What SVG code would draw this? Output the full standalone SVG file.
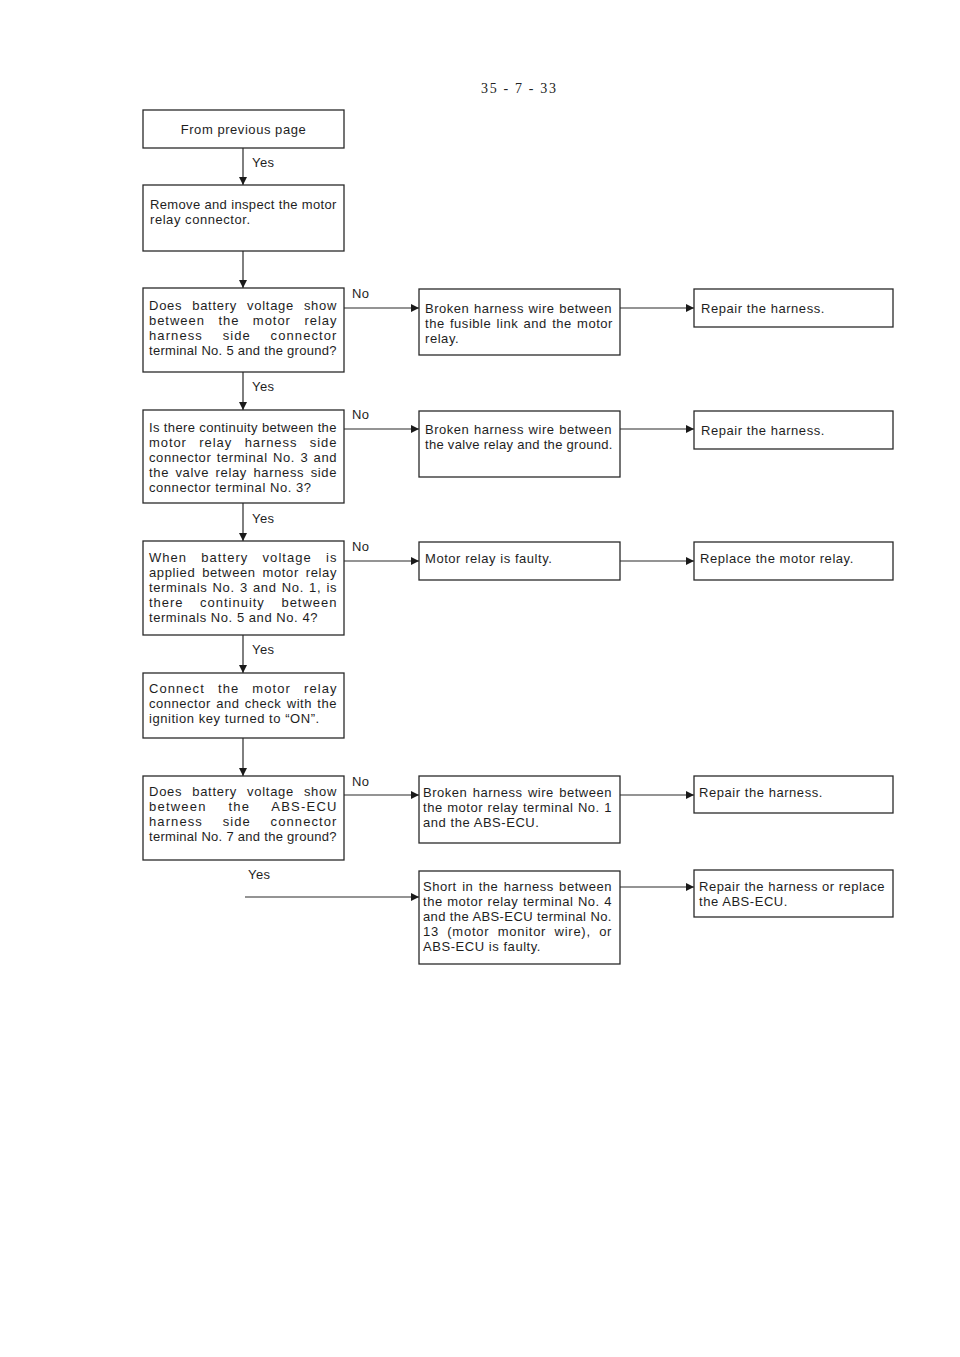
<svg xmlns="http://www.w3.org/2000/svg" width="960" height="1357" viewBox="0 0 960 1357">
<defs>
<marker id="ah" viewBox="0 0 10 10" refX="10" refY="5" markerWidth="8" markerHeight="8" markerUnits="userSpaceOnUse" orient="auto"><path d="M0,0 L10,5 L0,10 z" fill="#1a1a1a"/></marker>
<style>
.box{fill:#fff;stroke:#2a2a2a;stroke-width:1.3}
.t{font-family:"Liberation Sans",Arial,sans-serif;font-size:13px;fill:#1e1e1e;letter-spacing:0.55px}
.lbl{font-family:"Liberation Sans",Arial,sans-serif;font-size:13px;fill:#1e1e1e;letter-spacing:0.4px}
.pg{font-family:"Liberation Serif","Times New Roman",serif;font-size:14px;fill:#222}
.c{fill:none;stroke:#2a2a2a;stroke-width:1.2}
</style>
</defs>
<rect width="960" height="1357" fill="#fff"/>
<text class="pg" x="481" y="93" textLength="75" lengthAdjust="spacing">35 - 7 - 33</text>

<g id="connectors">
<line class="c" x1="243" y1="148" x2="243" y2="185" marker-end="url(#ah)"/>
<line class="c" x1="243" y1="251" x2="243" y2="288" marker-end="url(#ah)"/>
<line class="c" x1="344" y1="308" x2="419" y2="308" marker-end="url(#ah)"/>
<line class="c" x1="620" y1="308" x2="694" y2="308" marker-end="url(#ah)"/>
<line class="c" x1="243" y1="372" x2="243" y2="410" marker-end="url(#ah)"/>
<line class="c" x1="344" y1="429" x2="419" y2="429" marker-end="url(#ah)"/>
<line class="c" x1="620" y1="429" x2="694" y2="429" marker-end="url(#ah)"/>
<line class="c" x1="243" y1="503" x2="243" y2="541" marker-end="url(#ah)"/>
<line class="c" x1="344" y1="561" x2="419" y2="561" marker-end="url(#ah)"/>
<line class="c" x1="620" y1="561" x2="694" y2="561" marker-end="url(#ah)"/>
<line class="c" x1="243" y1="635" x2="243" y2="673" marker-end="url(#ah)"/>
<line class="c" x1="243" y1="738" x2="243" y2="776" marker-end="url(#ah)"/>
<line class="c" x1="344" y1="795" x2="419" y2="795" marker-end="url(#ah)"/>
<line class="c" x1="620" y1="795" x2="694" y2="795" marker-end="url(#ah)"/>
<line class="c" x1="245" y1="897" x2="419" y2="897" marker-end="url(#ah)"/>
<line class="c" x1="620" y1="887" x2="694" y2="887" marker-end="url(#ah)"/>
<text class="lbl" x="252" y="167">Yes</text>
<text class="lbl" x="352" y="298">No</text>
<text class="lbl" x="252" y="391">Yes</text>
<text class="lbl" x="352" y="419">No</text>
<text class="lbl" x="252" y="523">Yes</text>
<text class="lbl" x="352" y="551">No</text>
<text class="lbl" x="252" y="654">Yes</text>
<text class="lbl" x="352" y="786">No</text>
<text class="lbl" x="248" y="879">Yes</text>
</g>

<g id="n1"><rect class="box" x="143" y="110" width="201" height="38"/>
<text class="t" x="243.5" y="134" text-anchor="middle">From previous page</text></g>

<g id="n2"><rect class="box" x="143" y="185" width="201" height="66"/>
<text class="t" x="150" y="209" textLength="187" lengthAdjust="spacing">Remove and inspect the motor</text>
<text class="t" x="150" y="224">relay connector.</text></g>

<g id="n3"><rect class="box" x="143" y="288" width="201" height="84"/>
<text class="t" x="149" y="310" textLength="188" lengthAdjust="spacing" style="word-spacing:5.5px">Does battery voltage show</text>
<text class="t" x="149" y="325" textLength="188" lengthAdjust="spacing" style="word-spacing:9px">between the motor relay</text>
<text class="t" x="149" y="340" textLength="188" lengthAdjust="spacing" style="word-spacing:15px">harness side connector</text>
<text class="t" x="149" y="355" textLength="188" lengthAdjust="spacing">terminal No. 5 and the ground?</text></g>

<g id="n4"><rect class="box" x="419" y="289" width="201" height="66"/>
<text class="t" x="425" y="313" textLength="187" lengthAdjust="spacing" style="word-spacing:0.5px">Broken harness wire between</text>
<text class="t" x="425" y="328" textLength="188" lengthAdjust="spacing" style="word-spacing:1.2px">the fusible link and the motor</text>
<text class="t" x="425" y="343">relay.</text></g>

<g id="n5"><rect class="box" x="694" y="289" width="199" height="38"/>
<text class="t" x="701" y="313">Repair the harness.</text></g>

<g id="n6"><rect class="box" x="143" y="410" width="201" height="93"/>
<text class="t" x="149" y="432" textLength="188" lengthAdjust="spacing">Is there continuity between the</text>
<text class="t" x="149" y="447" textLength="188" lengthAdjust="spacing" style="word-spacing:8px">motor relay harness side</text>
<text class="t" x="149" y="462" textLength="188" lengthAdjust="spacing" style="word-spacing:1.2px">connector terminal No. 3 and</text>
<text class="t" x="149" y="477" textLength="188" lengthAdjust="spacing" style="word-spacing:2.2px">the valve relay harness side</text>
<text class="t" x="149" y="492">connector terminal No. 3?</text></g>

<g id="n7"><rect class="box" x="419" y="411" width="201" height="66"/>
<text class="t" x="425" y="434" textLength="187" lengthAdjust="spacing" style="word-spacing:0.5px">Broken harness wire between</text>
<text class="t" x="425" y="449" textLength="188" lengthAdjust="spacing">the valve relay and the ground.</text></g>

<g id="n8"><rect class="box" x="694" y="411" width="199" height="38"/>
<text class="t" x="701" y="435">Repair the harness.</text></g>

<g id="n9"><rect class="box" x="143" y="541" width="201" height="94"/>
<text class="t" x="149" y="562" textLength="188" lengthAdjust="spacing" style="word-spacing:9.5px">When battery voltage is</text>
<text class="t" x="149" y="577" textLength="188" lengthAdjust="spacing" style="word-spacing:2.6px">applied between motor relay</text>
<text class="t" x="149" y="592" textLength="188" lengthAdjust="spacing" style="word-spacing:1px">terminals No. 3 and No. 1, is</text>
<text class="t" x="149" y="607" textLength="188" lengthAdjust="spacing" style="word-spacing:12px">there continuity between</text>
<text class="t" x="149" y="622">terminals No. 5 and No. 4?</text></g>

<g id="n10"><rect class="box" x="419" y="542" width="201" height="38"/>
<text class="t" x="425" y="563">Motor relay is faulty.</text></g>

<g id="n11"><rect class="box" x="694" y="542" width="199" height="38"/>
<text class="t" x="700" y="563">Replace the motor relay.</text></g>

<g id="n12"><rect class="box" x="143" y="673" width="201" height="65"/>
<text class="t" x="149" y="693" textLength="188" lengthAdjust="spacing" style="word-spacing:8.5px">Connect the motor relay</text>
<text class="t" x="149" y="708" textLength="188" lengthAdjust="spacing" style="word-spacing:1.2px">connector and check with the</text>
<text class="t" x="149" y="723">ignition key turned to “ON”.</text></g>

<g id="n13"><rect class="box" x="143" y="776" width="201" height="84"/>
<text class="t" x="149" y="796" textLength="188" lengthAdjust="spacing" style="word-spacing:5.5px">Does battery voltage show</text>
<text class="t" x="149" y="811" textLength="188" lengthAdjust="spacing" style="word-spacing:17px">between the ABS-ECU</text>
<text class="t" x="149" y="826" textLength="188" lengthAdjust="spacing" style="word-spacing:15px">harness side connector</text>
<text class="t" x="149" y="841" textLength="188" lengthAdjust="spacing">terminal No. 7 and the ground?</text></g>

<g id="n14"><rect class="box" x="419" y="776" width="201" height="67"/>
<text class="t" x="423" y="797" textLength="189" lengthAdjust="spacing" style="word-spacing:1.2px">Broken harness wire between</text>
<text class="t" x="423" y="812" textLength="189" lengthAdjust="spacing" style="word-spacing:0.4px">the motor relay terminal No. 1</text>
<text class="t" x="423" y="827">and the ABS-ECU.</text></g>

<g id="n15"><rect class="box" x="694" y="776" width="199" height="37"/>
<text class="t" x="699" y="797">Repair the harness.</text></g>

<g id="n16"><rect class="box" x="419" y="871" width="201" height="93"/>
<text class="t" x="423" y="891" textLength="189" lengthAdjust="spacing" style="word-spacing:1.25px">Short in the harness between</text>
<text class="t" x="423" y="906" textLength="189" lengthAdjust="spacing" style="word-spacing:0.4px">the motor relay terminal No. 4</text>
<text class="t" x="423" y="921" textLength="189" lengthAdjust="spacing">and the ABS-ECU terminal No.</text>
<text class="t" x="423" y="936" textLength="189" lengthAdjust="spacing" style="word-spacing:4px">13 (motor monitor wire), or</text>
<text class="t" x="423" y="951">ABS-ECU is faulty.</text></g>

<g id="n17"><rect class="box" x="694" y="870" width="199" height="47"/>
<text class="t" x="699" y="891" textLength="186" lengthAdjust="spacing">Repair the harness or replace</text>
<text class="t" x="699" y="906">the ABS-ECU.</text></g>
</svg>
